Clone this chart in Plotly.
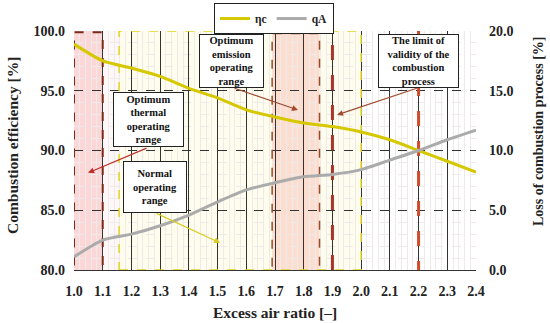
import plotly.graph_objects as go

# ---- data ----
excess_air = [1.0, 1.1, 1.2, 1.3, 1.4, 1.5, 1.6, 1.7, 1.8, 1.9, 2.0, 2.1, 2.2, 2.3, 2.4]
eta_c = [98.9, 97.5, 96.9, 96.2, 95.2, 94.4, 93.4, 92.8, 92.3, 92.0, 91.55, 90.9, 90.0, 89.1, 88.2]
q_a = [1.1, 2.5, 3.0, 3.7, 4.6, 5.7, 6.7, 7.3, 7.8, 8.0, 8.4, 9.2, 10.0, 10.9, 11.7]
series_names = ["ηc", "qA"]
x_ticks = [1.0, 1.1, 1.2, 1.3, 1.4, 1.5, 1.6, 1.7, 1.8, 1.9, 2.0, 2.1, 2.2, 2.3, 2.4]
left_ticks = [80, 85, 90, 95, 100]
right_ticks = [0, 5, 10, 15, 20]

thermal_range = [1.0, 1.1]
normal_range = [1.157, 2.0]
emission_range = [1.69, 1.855]
limit_lines = [1.9, 2.2]

FONT = "Liberation Serif"

fig = go.Figure()
fig.add_trace(go.Scatter(x=excess_air, y=eta_c, name="<b>" + series_names[0] + "</b>", mode="lines",
                         line=dict(color="#D6C800", width=3, shape="spline", smoothing=0.6)))
fig.add_trace(go.Scatter(x=excess_air, y=q_a, name="<b>" + series_names[1] + "</b>", mode="lines", yaxis="y2",
                         line=dict(color="#ABABAB", width=3, shape="spline", smoothing=0.6)))

shapes = []
shapes.append(dict(type="rect", xref="x", yref="y", x0=thermal_range[0], x1=normal_range[0], y0=80, y1=100,
                   fillcolor="rgba(250,200,200,0.15)", line=dict(width=0), layer="below"))
shapes.append(dict(type="rect", xref="x", yref="y", x0=thermal_range[0], x1=thermal_range[1], y0=80, y1=100,
                   fillcolor="rgba(245,150,150,0.32)", line=dict(width=0), layer="below"))
shapes.append(dict(type="rect", xref="x", yref="y", x0=normal_range[0], x1=normal_range[1], y0=80, y1=100,
                   fillcolor="rgba(250,240,170,0.22)", line=dict(width=0), layer="below"))
shapes.append(dict(type="rect", xref="x", yref="y", x0=emission_range[0], x1=emission_range[1], y0=80, y1=100,
                   fillcolor="rgba(245,160,150,0.32)", line=dict(width=0), layer="below"))
shapes.append(dict(type="rect", xref="x", yref="y", x0=normal_range[0], x1=normal_range[1], y0=80, y1=100,
                   line=dict(color="#E2D420", width=1.5, dash="dash"), layer="between"))
shapes.append(dict(type="rect", xref="x", yref="y", x0=thermal_range[0], x1=thermal_range[1], y0=79.8, y1=99.9,
                   line=dict(color="#7A2A18", width=2, dash="dash"), layer="between"))
shapes.append(dict(type="rect", xref="x", yref="y", x0=emission_range[0], x1=emission_range[1], y0=79.8, y1=99.8,
                   line=dict(color="#9A4A2A", width=1.5, dash="dash"), layer="between"))
shapes.append(dict(type="line", xref="x", yref="y", x0=limit_lines[0], x1=limit_lines[0], y0=80, y1=100,
                   line=dict(color="#A8342A", width=3, dash="longdash"), layer="between"))
shapes.append(dict(type="line", xref="x", yref="y", x0=limit_lines[1], x1=limit_lines[1], y0=79.5, y1=100,
                   line=dict(color="#D24A2A", width=3, dash="longdash"), layer="between"))

annotations = []
box_style = dict(showarrow=False, bgcolor="white", bordercolor="#222", borderwidth=1, borderpad=0,
                 font=dict(family=FONT, size=10.5, color="#111"), xref="x", yref="y", align="center",
                 valign="middle")

def arrow(head, tail, color):
    annotations.append(dict(x=head[0], y=head[1], ax=tail[0], ay=tail[1], xref="x", yref="y",
                            axref="x", ayref="y", text="", showarrow=True, arrowhead=2,
                            arrowsize=1, arrowwidth=1.2, arrowcolor=color))

arrow((1.049, 88.13), (1.258, 90.25), "#C0302A")
arrow((1.509, 82.27), (1.282, 84.8), "#D8CC20")
arrow((1.780, 93.39), (1.554, 95.25), "#A04A30")
arrow((1.916, 92.98), (2.199, 95.25), "#A04A30")

annotations.append(dict(x=1.26, y=92.56, width=69, height=53,
                        text="<b>Optimum<br>thermal<br>operating<br>range</b>", **box_style))
annotations.append(dict(x=1.281, y=86.92, width=62, height=50,
                        text="<b>Normal<br>operating<br>range</b>", **box_style))
annotations.append(dict(x=1.547, y=97.49, width=63, height=52,
                        text="<b>Optimum<br>emission<br>operating<br>range</b>", **box_style))
annotations.append(dict(x=2.2, y=97.49, width=79, height=52,
                        text="<b>The limit of<br>validity of the<br>combustion<br>process</b>", **box_style))

annotations.append(dict(xref="paper", yref="paper", x=(12 - 74) / 402, y=(270 - 146) / 239, textangle=-90,
                        showarrow=False, text="<b>Combustion efficiency [%]</b>",
                        font=dict(family=FONT, size=15.5, color="#222"), xanchor="center", yanchor="middle"))
annotations.append(dict(xref="paper", yref="paper", x=(538 - 74) / 402, y=(270 - 131) / 239, textangle=-90,
                        showarrow=False, text="<b>Loss of combustion process [%]</b>",
                        font=dict(family=FONT, size=14, color="#222"), xanchor="center", yanchor="middle"))
annotations.append(dict(xref="paper", yref="paper", x=0.5, y=(270 - 312) / 239, showarrow=False,
                        text="<b>Excess air ratio [–]</b>", font=dict(family=FONT, size=15.5, color="#222"),
                        xanchor="center", yanchor="middle"))

fig.update_layout(
    width=550, height=323,
    margin=dict(l=74, r=74, t=31, b=53, autoexpand=False),
    paper_bgcolor="white", plot_bgcolor="white",
    font=dict(family=FONT, color="#222"),
    shapes=shapes, annotations=annotations,
    showlegend=True,
    legend=dict(orientation="h", x=0.4975, y=1.117, xanchor="center", yanchor="top",
                bordercolor="#222", borderwidth=1, bgcolor="white",
                font=dict(family=FONT, size=11.5), itemwidth=30, tracegroupgap=0),
    xaxis=dict(range=[1.0, 2.4], tickvals=x_ticks, ticktext=[f"<b>{v:.1f}</b>" for v in x_ticks],
               showgrid=True, gridcolor="#333", gridwidth=1, zeroline=False,
               showline=True, linecolor="#333", linewidth=1, ticks="", ticklen=0,
               ticklabelstandoff=8,
               tickfont=dict(family=FONT, size=14, color="#222"),
               minor=dict(dtick=0.02, showgrid=True, gridcolor="#EEEAEA", gridwidth=1)),
    yaxis=dict(range=[80, 100], tickvals=left_ticks, ticktext=[f"<b>{v:.1f}</b>" for v in left_ticks],
               showgrid=True, gridcolor="#333", gridwidth=1, griddash="dash", zeroline=False,
               showline=False, ticklabelstandoff=8, tickfont=dict(family=FONT, size=14, color="#222"),
               minor=dict(dtick=1, showgrid=True, gridcolor="#EEEAEA", gridwidth=1)),
    yaxis2=dict(range=[0, 20], tickvals=right_ticks, ticktext=[f"<b>{v:.1f}</b>" for v in right_ticks],
                overlaying="y", side="right", showgrid=False, zeroline=False, showline=False,
                ticklabelstandoff=12, tickfont=dict(family=FONT, size=14, color="#222")),
)

fig.write_html("out.html", config={"displayModeBar": False},
               post_script="document.body.style.margin='0px';")
